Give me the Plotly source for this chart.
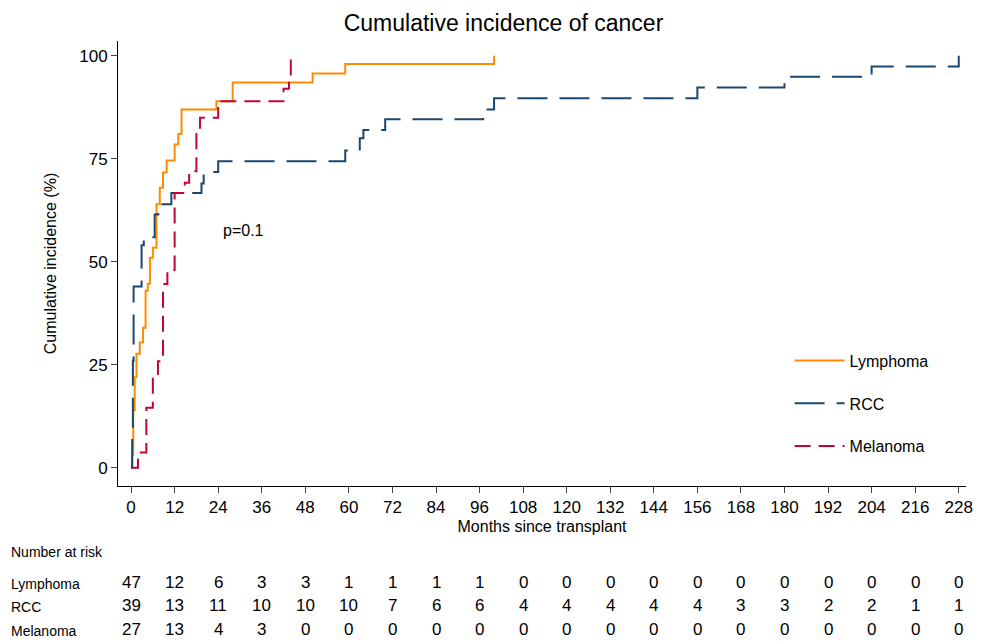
import plotly.graph_objects as go

# step curves (months, cumulative incidence %)
lym_x = [0, 0.3, 0.6, 1.0, 1.5, 2.4, 3.3, 4.0, 4.6, 5.2, 6.0, 7.0, 7.9, 8.8, 9.8, 12.0, 13.0, 13.9, 23.5, 28.0, 50.0, 59.0, 100.0, 100.0]
lym_y = [0, 3, 14, 22, 27.7, 30.4, 34, 43, 44.7, 51, 53.4, 64, 68, 71.7, 74.6, 78.5, 81, 87, 89, 93.5, 95.7, 98, 98, 100]

rcc_x = [0, 0.3, 0.5, 0.7, 2.9, 3.5, 6.5, 7.5, 11.1, 19.4, 20.0, 24.0, 59.0, 63.0, 64.0, 70.0, 97.0, 100.0, 156.0, 180.0, 204.0, 228.0, 228.0]
rcc_y = [0, 8, 26, 44, 54, 56, 61.5, 64, 66.7, 69, 71.8, 74.4, 77, 80, 82, 84.6, 87, 89.7, 92.3, 94.9, 97.4, 97.4, 100]

mel_x = [0, 0.2, 1.9, 4.2, 6.0, 7.4, 8.8, 10.0, 12.0, 14.8, 16.0, 18.0, 19.0, 24.0, 42.0, 43.5, 44.0, 44.0]
mel_y = [0, 0, 3.7, 14.6, 22.8, 25.9, 44.6, 48, 66.7, 69.2, 72, 81, 85, 89, 92, 94, 94, 100]

risk_times = list(range(0, 229, 12))
risk_lym = [47, 12, 6, 3, 3, 1, 1, 1, 1, 0, 0, 0, 0, 0, 0, 0, 0, 0, 0, 0]
risk_rcc = [39, 13, 11, 10, 10, 10, 7, 6, 6, 4, 4, 4, 4, 4, 3, 3, 2, 2, 1, 1]
risk_mel = [27, 13, 4, 3, 0, 0, 0, 0, 0, 0, 0, 0, 0, 0, 0, 0, 0, 0, 0, 0]

fig = go.Figure()
fig.add_trace(go.Scatter(x=lym_x, y=lym_y, mode="lines", line_shape="hv", name="Lymphoma",
                         legendgroup="a", line=dict(color="#FF8C00", width=2)))
fig.add_trace(go.Scatter(x=rcc_x, y=rcc_y, mode="lines", line_shape="hv", name="RCC",
                         legendgroup="b", line=dict(color="#1A476F", width=2, dash="30px,12px")))
fig.add_trace(go.Scatter(x=mel_x, y=mel_y, mode="lines", line_shape="hv", name="Melanoma",
                         legendgroup="c", line=dict(color="#C10534", width=2, dash="16px,8px")))

fig.add_annotation(x=31, y=57.5, xref="x", yref="y", text="p=0.1", showarrow=False,
                   font=dict(size=16))

rows = [("Lymphoma", risk_lym, -0.242), ("RCC", risk_rcc, -0.294), ("Melanoma", risk_mel, -0.348)]
fig.add_annotation(x=-0.128, y=-0.171, xref="paper", yref="paper", text="Number at risk",
                   showarrow=False, xanchor="left", font=dict(size=14))
for name, vals, yy in rows:
    fig.add_annotation(x=-0.128, y=yy, xref="paper", yref="paper", text=name,
                       showarrow=False, xanchor="left", font=dict(size=14))
    for t, v in zip(risk_times, vals):
        fig.add_annotation(x=t, y=yy, xref="x", yref="paper", text=str(v),
                           showarrow=False, font=dict(size=17))

fig.update_layout(
    width=991, height=644,
    margin=dict(l=110, r=33, t=33, b=166, autoexpand=False),
    plot_bgcolor="white", paper_bgcolor="white",
    font=dict(family="Liberation Sans, Arial", color="black", size=17),
    title=dict(text="Cumulative incidence of cancer", x=0.5, xanchor="center", y=0.99,
               yanchor="top", font=dict(size=23)),
    xaxis=dict(range=[-3.6, 230], tickvals=risk_times, showgrid=False, zeroline=False,
               showline=True, linecolor="black", ticks="outside", ticklen=6,
               title=dict(text="Months since transplant", standoff=4, font=dict(size=16))),
    yaxis=dict(range=[-4.4, 103.6], tickvals=[0, 25, 50, 75, 100], showgrid=False, zeroline=False,
               showline=True, linecolor="black", ticks="outside", ticklen=6,
               title=dict(text="Cumulative incidence (%)", standoff=18, font=dict(size=16))),
    legend=dict(x=0.792, y=0.32, xanchor="left", yanchor="top", font=dict(size=16),
                tracegroupgap=19, itemwidth=50, bgcolor="rgba(0,0,0,0)"),
)
fig.write_html("out.html")
